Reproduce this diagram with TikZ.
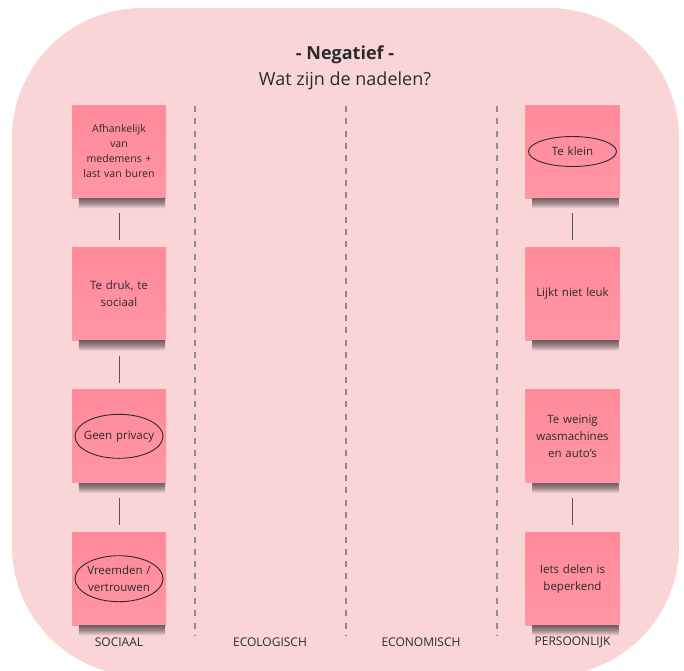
\documentclass[tikz,border=0pt]{standalone}
\usepackage{fontspec}
\setmainfont{Open Sans}
\usetikzlibrary{positioning}
\definecolor{boardpink}{HTML}{FAD5D6}
\definecolor{notetop}{HTML}{FF8A9A}
\definecolor{notebottom}{HTML}{FF96A5}
\definecolor{inkgray}{HTML}{2B2B2B}
\definecolor{linegray}{HTML}{555555}
\definecolor{dashgray}{HTML}{8C8C8C}

\begin{document}
\begin{tikzpicture}[x=1pt, y=-1pt, node distance=49pt,
  note/.style={rectangle, top color=notetop, bottom color=notebottom, minimum width=94pt, minimum height=93pt,
    text width=88pt, align=center, inner sep=0pt, font=\fontsize{11.5}{17}\selectfont, text=inkgray},
  shade below/.style={top color=black!55!boardpink, bottom color=boardpink, middle color=black!35!boardpink},
  link/.style={draw=linegray, line width=1pt, shorten <=15pt, shorten >=7pt},
  sep/.style={draw=dashgray, line width=1.3pt, dash pattern=on 6pt off 6.3pt},
  colname/.style={font=\fontsize{12}{14}\selectfont, text=inkgray},
  ring/.style={draw=inkgray, line width=0.9pt}]
  \useasboundingbox (0,0) rectangle (684,670);
  \begin{scope}
    \clip (0,0) rectangle (684,670);
    \fill[boardpink, rounded corners=130pt] (12,8) rectangle (679,676);
  \end{scope}

  % titel
  \node[font=\bfseries\fontsize{18}{21}\selectfont, text=inkgray] (title) at (345,55) {- Negatief -};
  \node[font=\fontsize{18}{21}\selectfont, text=inkgray, below=1pt of title] (sub) {Wat zijn de nadelen?};

  % kolomscheiding
  \foreach \x in {195,346,497}
    \draw[sep] (\x,106) -- (\x,636);

  % sociaal
  \node[note, font=\fontsize{10.5}{15}\selectfont] (s1) at (119,151.5) {Afhankelijk\\van\\medemens +\\last van buren};
  \node[note, below=of s1] (s2) {Te druk, te\\sociaal};
  \node[note, below=of s2] (s3) {Geen privacy};
  \node[note, below=of s3] (s4) {Vreemden /\\vertrouwen};
  \draw[ring] (s3.center) ellipse (44pt and 22pt);
  \draw[ring] (s4.center) ellipse (44pt and 23pt);
  \draw[link] (s1) -- (s2);
  \draw[link] (s2) -- (s3);
  \draw[link] (s3) -- (s4);

  % persoonlijk
  \node[note] (p1) at (572.5,151.5) {Te klein};
  \node[note, below=of p1] (p2) {Lijkt niet leuk};
  \node[note, below=of p2] (p3) {Te weinig\\wasmachines\\en auto's};
  \node[note, below=of p3] (p4) {Iets delen is\\beperkend};
  \draw[ring] (p1.center) ellipse (44pt and 15pt);
  \draw[link] (p1) -- (p2);
  \draw[link] (p3) -- (p4);

  % schaduw onder de briefjes
  \foreach \n in {s1,s2,s3,s4,p1,p2,p3,p4}
    \shade[shade below] ([xshift=7pt]\n.south west) rectangle ([xshift=-1pt, yshift=-10pt]\n.south east);

  % kolomnamen
  \node[colname] (n1) at (119,642) {SOCIAAL};
  \node[colname] (n2) at (270,642) {ECOLOGISCH};
  \node[colname] (n3) at (421,642) {ECONOMISCH};
  \node[colname] (n4) at (572.5,642) {PERSOONLIJK};
\end{tikzpicture}
\end{document}
